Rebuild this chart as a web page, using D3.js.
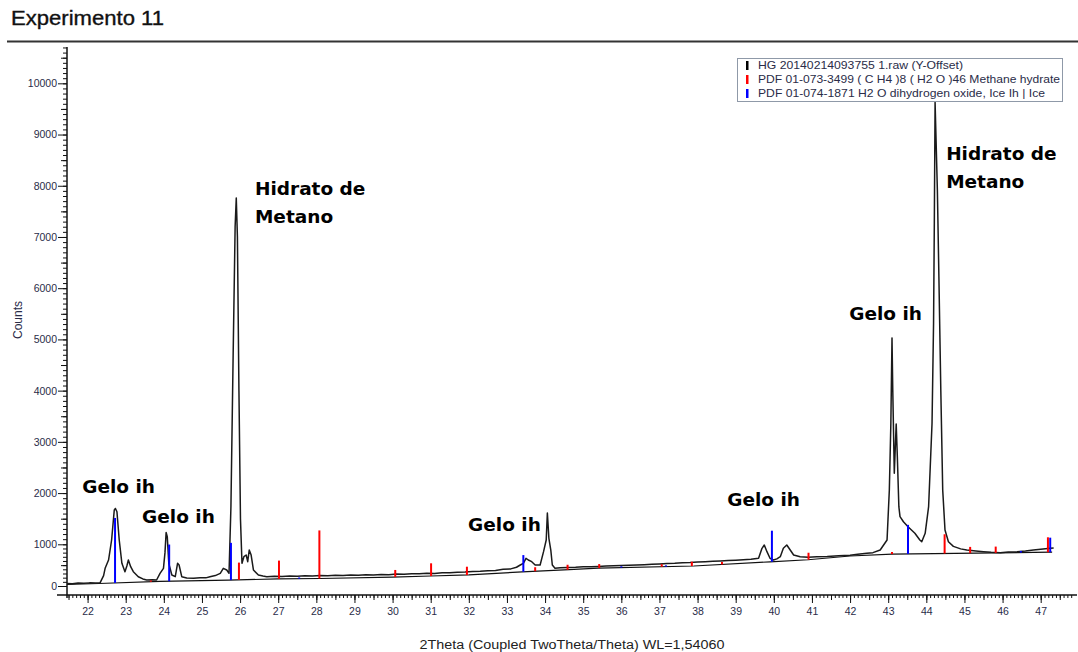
<!DOCTYPE html>
<html>
<head>
<meta charset="utf-8">
<script src="https://cdn.jsdelivr.net/npm/d3@7"></script>
<style>
  html, body { margin: 0; padding: 0; background: #fff; }
  svg { display: block; }
</style>
</head>
<body>
<svg id="chart" width="1078" height="652"></svg>
<script>
// ---------------- DATA ----------------
const chartTitle = "Experimento 11";
const xTitle = "2Theta (Coupled TwoTheta/Theta) WL=1,54060";
const yTitle = "Counts";

const xTickValues = [22,23,24,25,26,27,28,29,30,31,32,33,34,35,36,37,38,39,40,41,42,43,44,45,46,47];
const yTickValues = [0,1000,2000,3000,4000,5000,6000,7000,8000,9000,10000];

// measured pattern (2Theta, counts)
const twoTheta = [21.46,21.6,21.75,21.9,22.05,22.2,22.33,22.42,22.46,22.55,22.63,22.7,22.73,22.77,22.83,22.9,22.98,23.03,23.07,23.13,23.2,23.33,23.45,23.55,23.7,23.81,23.9,23.99,24.03,24.06,24.09,24.13,24.21,24.3,24.36,24.4,24.47,24.6,24.78,24.95,25.1,25.21,25.35,25.48,25.56,25.65,25.71,25.76,25.82,25.87,25.9,25.93,25.97,26.01,26.05,26.1,26.16,26.2,26.24,26.29,26.35,26.48,26.6,26.7,26.9,27.1,27.3,27.5,27.7,27.9,28.1,28.3,28.5,28.7,28.9,29.1,29.3,29.5,29.7,29.9,30.1,30.3,30.5,30.7,30.9,31.1,31.3,31.5,31.7,31.9,32.1,32.3,32.5,32.7,32.9,33.1,33.25,33.35,33.43,33.5,33.56,33.65,33.74,33.87,33.96,34.03,34.06,34.1,34.15,34.19,34.26,34.4,34.6,34.8,35.0,35.2,35.4,35.6,35.8,36.0,36.2,36.4,36.6,36.8,37.0,37.2,37.4,37.6,37.8,38.0,38.2,38.4,38.6,38.8,39.0,39.2,39.4,39.6,39.69,39.75,39.82,39.9,39.99,40.08,40.17,40.25,40.34,40.43,40.52,40.69,40.9,41.13,41.4,41.7,42.0,42.2,42.44,42.6,42.79,42.97,43.03,43.07,43.1,43.12,43.16,43.21,43.24,43.28,43.31,43.4,43.52,43.7,43.83,43.88,43.97,44.06,44.15,44.19,44.21,44.23,44.29,44.33,44.38,44.43,44.49,44.58,44.71,44.9,45.06,45.3,45.5,45.7,45.94,46.15,46.38,46.6,46.81,47.0,47.25,47.34];
const counts = [60,55,70,65,75,70,80,250,424,623,1084,1670,1700,1636,1084,544,343,480,624,463,343,223,170,144,150,144,304,424,800,1230,1150,544,264,223,544,504,223,190,185,200,195,223,250,304,424,384,304,1734,4800,7200,7760,7000,4000,1500,544,703,743,583,863,743,384,264,240,223,235,228,240,236,245,240,250,248,255,252,262,258,268,265,275,272,285,282,295,292,305,302,318,320,330,335,345,352,365,372,400,410,450,504,544,664,623,583,504,504,823,1084,1610,1117,863,504,424,440,445,450,460,462,470,478,485,490,498,502,510,520,528,540,545,555,562,575,582,592,600,610,618,628,640,664,904,983,823,664,623,650,703,904,983,863,743,703,690,703,710,725,740,760,784,800,863,1084,2060,3362,5030,4012,2386,3350,2710,1734,1539,1441,1344,1215,1084,1051,1215,1734,3362,5315,7267,9630,7917,6225,4012,2060,1279,1051,951,890,863,840,823,810,800,815,823,840,863,880,903,910];

// background line (2Theta, counts)
const bgTheta  = [21.46,22.3,23.9,25.7,27.0,28.1,30.0,31.0,32.0,33.4,34.5,35.4,37.9,39.9,40.9,42.0,43.1,47.3];
const bgCounts = [40,60,110,140,170,180,215,240,265,340,385,430,480,580,630,720,765,810];

// reference sticks: PDF 01-073-3499 methane hydrate (red)
const redTheta  = [23.66,25.97,27.02,28.08,30.07,31.01,31.95,33.74,34.59,35.42,37.06,37.85,38.64,40.91,43.10,44.48,45.15,45.82,47.19];
const redHeight = [30,415,439,1091,168,304,199,96,120,96,60,103,60,167,50,416,151,151,328];
// reference sticks: PDF 01-074-1871 ice Ih (blue)
const blueTheta  = [22.72,24.14,25.76,27.55,33.43,36.0,37.17,39.95,43.52,46.48,47.25];
const blueHeight = [1441,880,887,30,400,30,30,683,610,40,320];

const legendLabels = ["HG 20140214093755 1.raw (Y-Offset)",
                      "PDF 01-073-3499 ( C H4 )8 ( H2 O )46 Methane hydrate",
                      "PDF 01-074-1871 H2 O dihydrogen oxide, Ice Ih | Ice"];
const legendColors = ["#000000", "#ff0000", "#0000ff"];

const annText   = [["Gelo ih"],["Gelo ih"],["Hidrato de","Metano"],["Gelo ih"],["Gelo ih"],["Gelo ih"],["Hidrato de","Metano"]];
const annTheta  = [21.86,23.43,26.39,31.98,38.78,41.98,44.52];
const annCounts = [2002,1416,7820,1260,1748,5383,8504];

// ---------------- CHART ----------------
const svg = d3.select("#chart");
const x = d3.scaleLinear().domain([21.46, 47.9]).range([67, 1075]);
const y = d3.scaleLinear().domain([0, 1000, 10709]).range([586, 544.3, 47]);
const bg = d3.scaleLinear().domain(bgTheta).range(bgCounts);

const labelColor = "#2a2c48";
const font = "'Liberation Sans', Arial, sans-serif";

// title + separator
svg.append("text").attr("x", 11).attr("y", 25).attr("font-family", font)
  .attr("font-size", 20).attr("fill", "#111").attr("stroke", "#111").attr("stroke-width", 0.35)
  .attr("textLength", 153).attr("lengthAdjust", "spacingAndGlyphs").text(chartTitle);
svg.append("line").attr("x1", 7).attr("x2", 1078).attr("y1", 41.5).attr("y2", 41.5)
  .attr("stroke", "#333").attr("stroke-width", 2);

// axes
const xAxisY = 595;
function styleAxis(g) {
  g.select(".domain").remove();
  g.selectAll(".tick line").attr("stroke", "#111");
}
svg.append("g").attr("transform", `translate(0,${xAxisY})`)
  .call(d3.axisBottom(x).tickValues(d3.range(215, 479).map(v => v / 10)).tickSize(3).tickFormat(""))
  .call(styleAxis);
svg.append("g").attr("transform", `translate(0,${xAxisY})`)
  .call(d3.axisBottom(x).tickValues(d3.range(215, 479, 5).map(v => v / 10)).tickSize(5).tickFormat(""))
  .call(styleAxis);
const gx = svg.append("g").attr("transform", `translate(0,${xAxisY})`)
  .call(d3.axisBottom(x).tickValues(xTickValues).tickSize(8).tickPadding(5))
  .call(styleAxis);
gx.selectAll("text").attr("font-family", font).attr("font-size", 10.5).attr("fill", labelColor);

svg.append("g").attr("transform", "translate(67,0)")
  .call(d3.axisLeft(y).tickValues(d3.range(0, 10701, 100)).tickSize(4).tickFormat(""))
  .call(styleAxis);
svg.append("g").attr("transform", "translate(67,0)")
  .call(d3.axisLeft(y).tickValues(d3.range(500, 10701, 1000)).tickSize(6).tickFormat(""))
  .call(styleAxis);
const gy = svg.append("g").attr("transform", "translate(67,0)")
  .call(d3.axisLeft(y).tickValues(yTickValues).tickSize(9).tickPadding(1).tickFormat(d3.format("d")))
  .call(styleAxis);
gy.selectAll("text").attr("font-family", font).attr("font-size", 10.5).attr("fill", labelColor);

svg.append("line").attr("x1", 67).attr("x2", 67).attr("y1", 47).attr("y2", 598)
  .attr("stroke", "#111").attr("stroke-width", 1.5);
svg.append("line").attr("x1", 57).attr("x2", 1077).attr("y1", xAxisY).attr("y2", xAxisY)
  .attr("stroke", "#111").attr("stroke-width", 1.5);

// axis titles
svg.append("text").attr("transform", "translate(22,320) rotate(-90)")
  .attr("text-anchor", "middle").attr("font-family", font).attr("font-size", 12)
  .attr("fill", labelColor).text(yTitle);
svg.append("text").attr("x", 572).attr("y", 649).attr("text-anchor", "middle")
  .attr("font-family", font).attr("font-size", 12).attr("fill", "#222")
  .attr("textLength", 305).attr("lengthAdjust", "spacingAndGlyphs").text(xTitle);

// background line
svg.append("path").datum(bgTheta.map((t, i) => [t, bgCounts[i]]))
  .attr("fill", "none").attr("stroke", "#111").attr("stroke-width", 1.2)
  .attr("d", d3.line().x(d => x(d[0])).y(d => y(d[1])));

// measured pattern
svg.append("path").datum(twoTheta.map((t, i) => [t, counts[i]]))
  .attr("fill", "none").attr("stroke", "#1a1a1a").attr("stroke-width", 1.5)
  .attr("stroke-linejoin", "round")
  .attr("d", d3.line().x(d => x(d[0])).y(d => y(d[1])));

// sticks
function sticks(thetas, heights, color) {
  svg.append("g").selectAll("line").data(thetas.map((t, i) => [t, heights[i]])).join("line")
    .attr("x1", d => x(d[0])).attr("x2", d => x(d[0]))
    .attr("y1", d => y(bg(d[0]))).attr("y2", d => y(bg(d[0]) + d[1]))
    .attr("stroke", color).attr("stroke-width", 2);
}
sticks(redTheta, redHeight, "#ff0000");
sticks(blueTheta, blueHeight, "#0000ff");

// annotations
annText.forEach((lines, i) => {
  const t = svg.append("text").attr("x", x(annTheta[i])).attr("y", y(annCounts[i]))
    .attr("font-family", "'DejaVu Sans', Verdana, sans-serif").attr("font-weight", "bold")
    .attr("font-size", 18.5).attr("fill", "#000");
  lines.forEach((s, j) => {
    t.append("tspan").attr("x", x(annTheta[i])).attr("dy", j === 0 ? 0 : 28).text(s);
  });
});

// legend
const lg = svg.append("g");
lg.append("rect").attr("x", 737.5).attr("y", 58.5).attr("width", 325).attr("height", 43)
  .attr("fill", "#fff").attr("stroke", "#8f99a8").attr("stroke-width", 1);
const legendWidths = [205, 302, 287];
legendLabels.forEach((s, i) => {
  const cy = 65 + i * 14;
  lg.append("rect").attr("x", 746).attr("y", cy - 4).attr("width", 2.5).attr("height", 9)
    .attr("fill", legendColors[i]);
  lg.append("text").attr("x", 758).attr("y", cy).attr("dy", "0.35em")
    .attr("font-family", font).attr("font-size", 11).attr("fill", labelColor)
    .attr("textLength", legendWidths[i]).attr("lengthAdjust", "spacingAndGlyphs").text(s);
});
</script>
</body>
</html>
